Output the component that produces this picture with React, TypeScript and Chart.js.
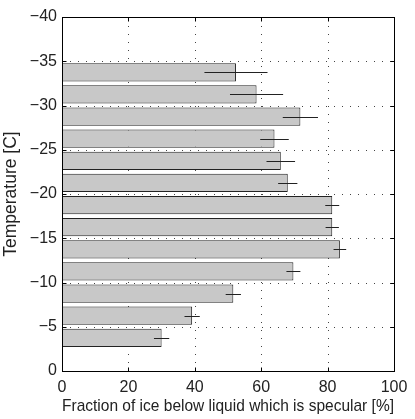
import React, { useEffect, useRef } from 'react';
import { Chart, registerables } from 'chart.js';

Chart.register(...registerables);

// Temperature bin centres [C]
const temperatures = [-3.75, -6.25, -8.75, -11.25, -13.75, -16.25, -18.75, -21.25, -23.75, -26.25, -28.75, -31.25, -33.75];
// Fraction of ice below liquid which is specular [%]
const specularFraction = [30.0, 39.2, 51.6, 69.7, 83.7, 81.4, 81.4, 68.0, 65.9, 64.0, 71.8, 58.6, 52.4];
// Error bar half-widths [%]
const errorHalfWidth = [2.3, 2.3, 2.3, 2.1, 1.9, 2.0, 2.1, 2.9, 4.3, 4.3, 5.3, 8.0, 9.5];

const xTicks = [0, 20, 40, 60, 80, 100];
const yTicks = [-40, -35, -30, -25, -20, -15, -10, -5, 0];

const FONT = '"Liberation Sans", Arial, Helvetica, sans-serif';

const framePlugin = {
  id: 'matlabFrame',
  beforeDatasetsDraw(chart: any) {
    const { ctx, chartArea: a, scales } = chart;
    const x = scales.x;
    const y = scales.y;
    ctx.save();
    ctx.strokeStyle = '#444';
    ctx.lineWidth = 1;
    ctx.setLineDash([1, 7]);
    for (const v of xTicks) {
      if (v === xTicks[0] || v === xTicks[xTicks.length - 1]) continue;
      const px = Math.round(x.getPixelForValue(v)) + 0.5;
      ctx.beginPath();
      ctx.moveTo(px, a.bottom);
      ctx.lineTo(px, a.top);
      ctx.stroke();
    }
    for (const v of yTicks) {
      if (v === yTicks[0] || v === yTicks[yTicks.length - 1]) continue;
      const py = Math.round(y.getPixelForValue(v)) + 0.5;
      ctx.beginPath();
      ctx.moveTo(a.left, py);
      ctx.lineTo(a.right, py);
      ctx.stroke();
    }
    ctx.restore();
  },
  afterDatasetsDraw(chart: any) {
    const { ctx, chartArea: a, scales } = chart;
    const x = scales.x;
    const y = scales.y;
    ctx.save();
    // error bars
    ctx.strokeStyle = '#222';
    ctx.lineWidth = 1;
    temperatures.forEach((t, i) => {
      const py = Math.round(y.getPixelForValue(t)) + 0.5;
      const x0 = x.getPixelForValue(specularFraction[i] - errorHalfWidth[i]);
      const x1 = x.getPixelForValue(specularFraction[i] + errorHalfWidth[i]);
      ctx.beginPath();
      ctx.moveTo(x0, py);
      ctx.lineTo(x1, py);
      ctx.stroke();
    });
    // box
    const L = Math.round(a.left) + 0.5;
    const R = Math.round(a.right) + 0.5;
    const T = Math.round(a.top) + 0.5;
    const B = Math.round(a.bottom) + 0.5;
    ctx.strokeStyle = '#000';
    ctx.strokeRect(L, T, R - L, B - T);
    // inward ticks
    const tl = 4;
    for (const v of xTicks) {
      const px = Math.round(x.getPixelForValue(v)) + 0.5;
      ctx.beginPath();
      ctx.moveTo(px, B); ctx.lineTo(px, B - tl);
      ctx.moveTo(px, T); ctx.lineTo(px, T + tl);
      ctx.stroke();
    }
    for (const v of yTicks) {
      const py = Math.round(y.getPixelForValue(v)) + 0.5;
      ctx.beginPath();
      ctx.moveTo(L, py); ctx.lineTo(L + tl, py);
      ctx.moveTo(R, py); ctx.lineTo(R - tl, py);
      ctx.stroke();
    }
    ctx.restore();
  },
};

export default function App() {
  const ref = useRef<HTMLCanvasElement | null>(null);

  useEffect(() => {
    if (!ref.current) return;
    const chart = new Chart(ref.current, {
      type: 'bar',
      data: {
        datasets: [
          {
            data: temperatures.map((t, i) => ({ x: specularFraction[i], y: t })),
            backgroundColor: '#c8c8c8',
            borderColor: '#222',
            borderWidth: 1,
            barPercentage: 0.83,
            categoryPercentage: 1,
          },
        ],
      },
      options: {
        indexAxis: 'y',
        responsive: false,
        animation: false,
        layout: { padding: { left: 0, right: 21, top: 17, bottom: 0 } },
        plugins: { legend: { display: false }, tooltip: { enabled: false } },
        scales: {
          x: {
            type: 'linear',
            min: 0,
            max: 100,
            offset: false,
            grid: { display: false, drawTicks: false },
            border: { display: false },
            afterBuildTicks: (s: any) => { s.ticks = xTicks.map((v) => ({ value: v })); },
            afterFit: (s: any) => { s.height = 48; },
            ticks: { padding: 7, color: '#222', font: { family: FONT, size: 16 }, maxRotation: 0 },
            title: {
              display: true,
              text: 'Fraction of ice below liquid which is specular [%]',
              color: '#222',
              font: { family: FONT, size: 16.2 },
              padding: { top: 0, bottom: 3 },
            },
          },
          y: {
            type: 'linear',
            min: -40,
            max: 0,
            reverse: true,
            offset: false,
            grid: { display: false, drawTicks: false, offset: false },
            border: { display: false },
            afterBuildTicks: (s: any) => { s.ticks = yTicks.map((v) => ({ value: v })); },
            afterFit: (s: any) => { s.width = 62; },
            ticks: {
              padding: 5,
              color: '#222',
              font: { family: FONT, size: 16 },
              callback: (v: any) => (Number(v) < 0 ? '\u2212' + Math.abs(Number(v)) : String(v)),
            },
            title: {
              display: true,
              text: 'Temperature [C]',
              color: '#222',
              font: { family: FONT, size: 17.5 },
              padding: { top: 0.5, bottom: 0 },
            },
          },
        },
      },
      plugins: [framePlugin],
    } as any);
    return () => chart.destroy();
  }, []);

  return (
    <div style={{ position: 'absolute', left: 0, top: 0, width: 415, height: 419, background: '#fff' }}>
      <canvas ref={ref} width={415} height={419} style={{ display: 'block' }} />
    </div>
  );
}
